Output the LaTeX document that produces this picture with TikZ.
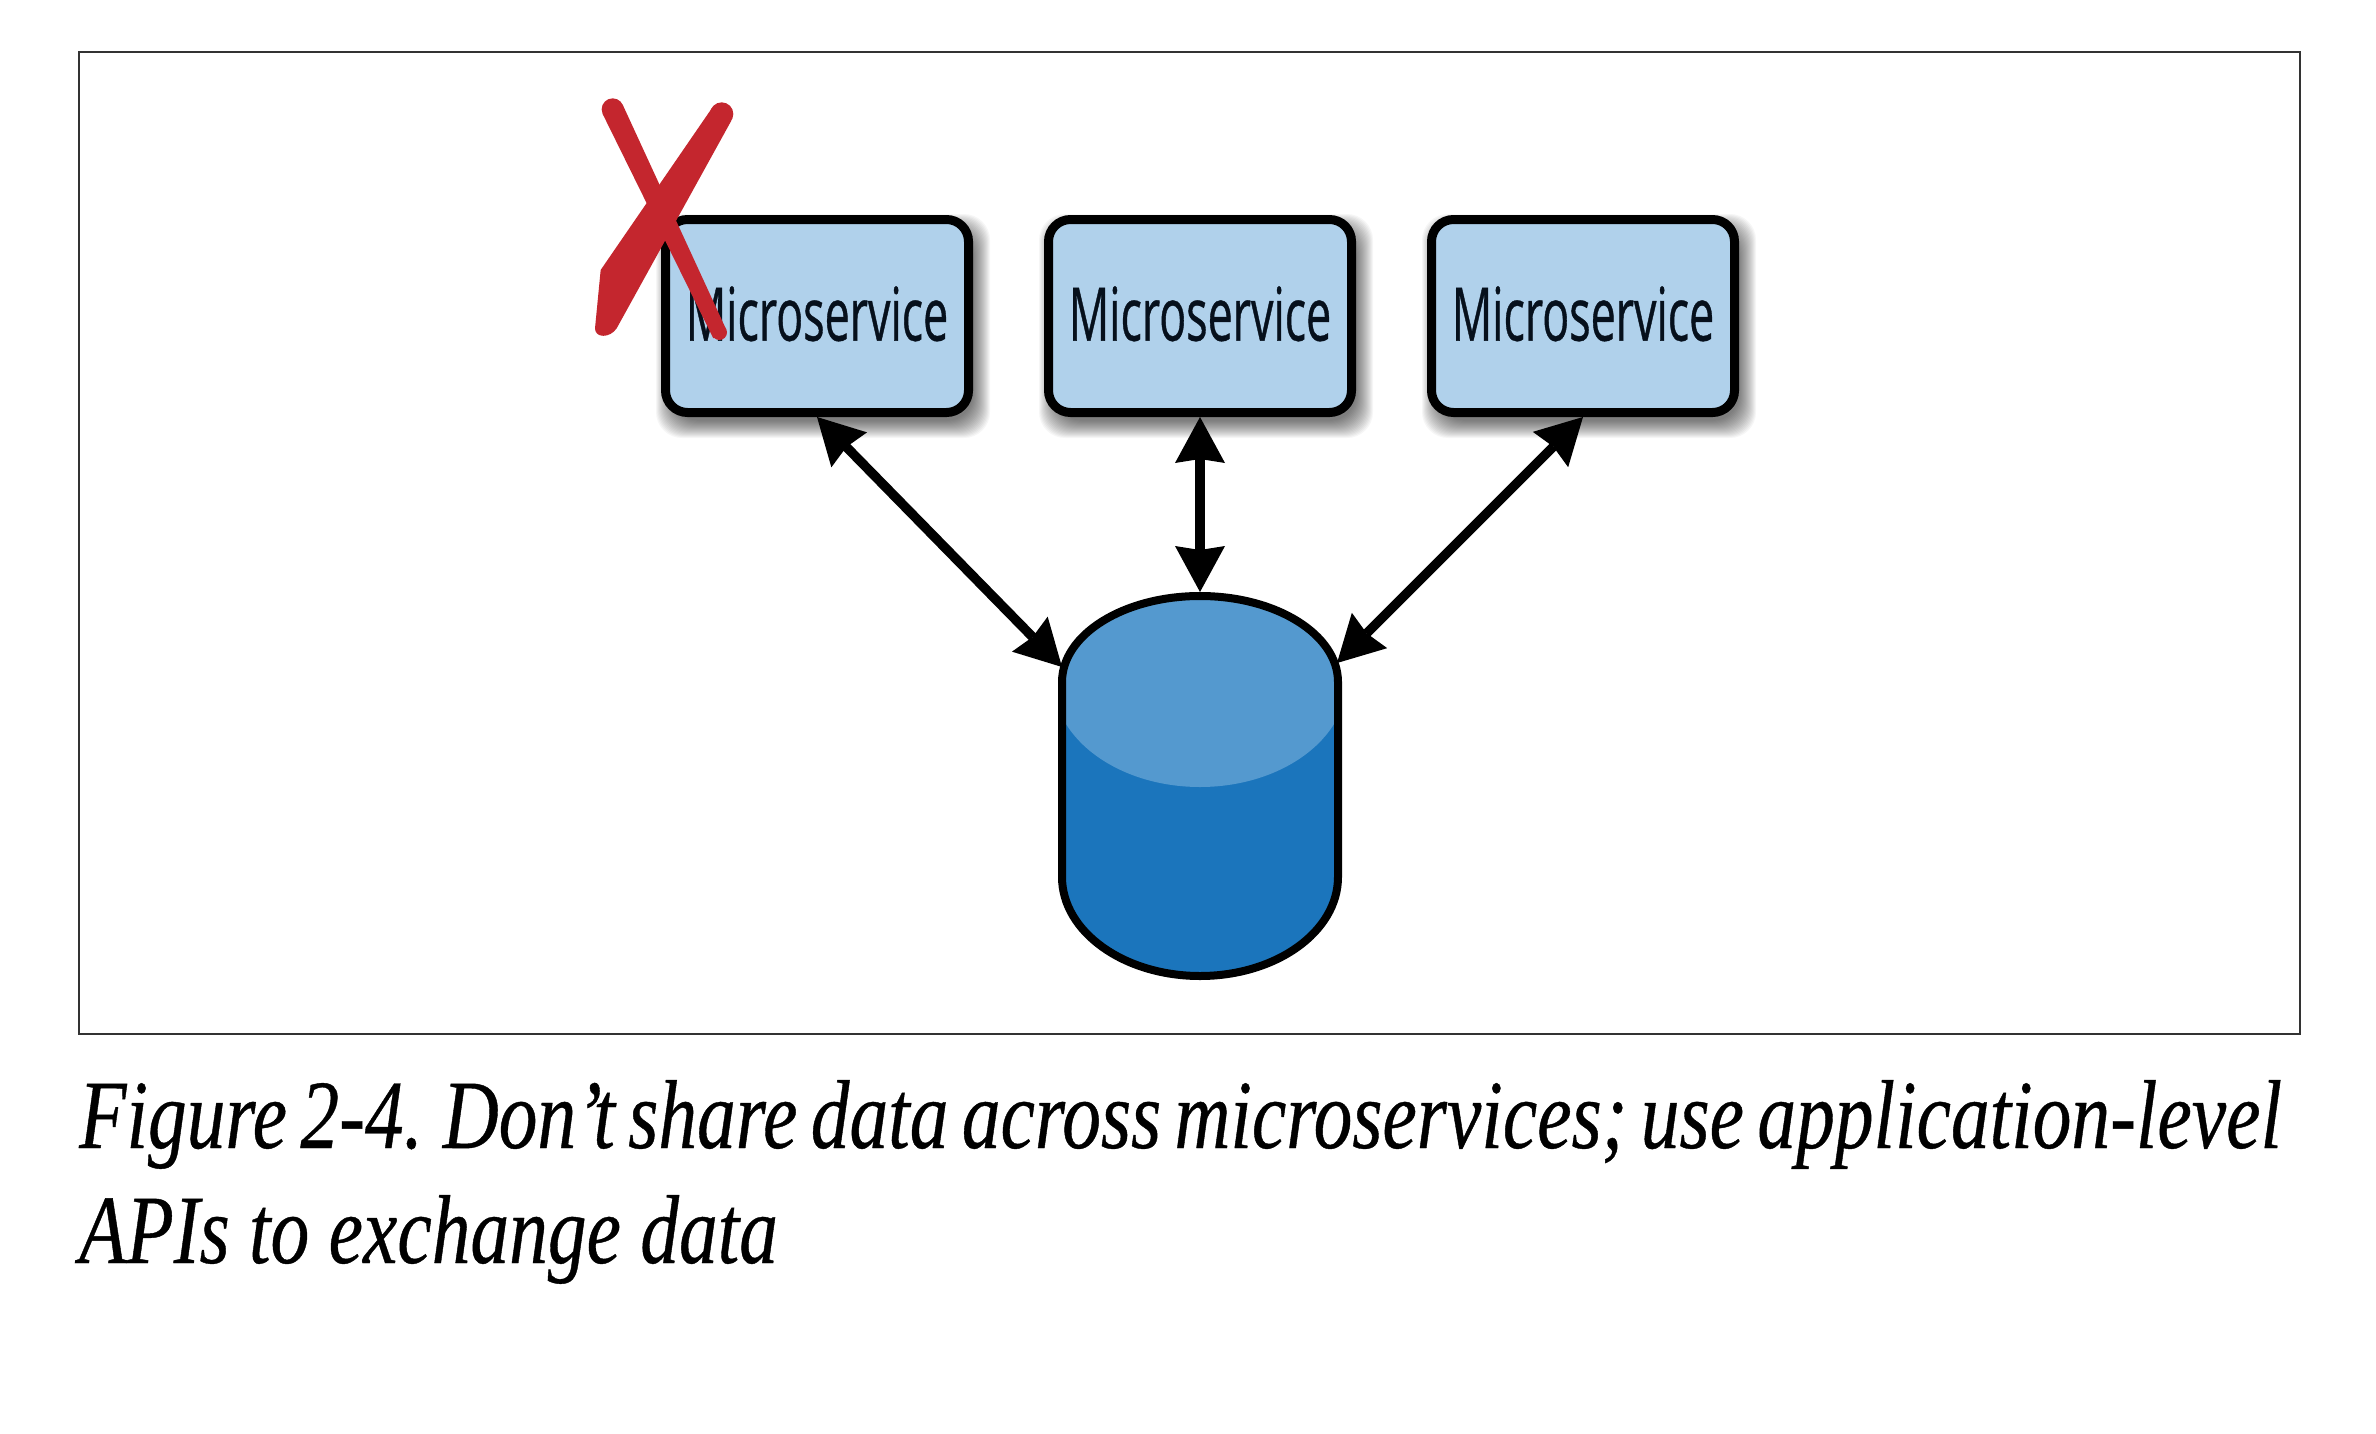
\documentclass[tikz,border=0pt]{standalone}
\usepackage{fontspec}
\usepackage{graphicx}
\usetikzlibrary{arrows.meta}
\setmainfont{Liberation Serif}
\newfontfamily\boxfont[FakeStretch=0.605,FakeBold=0.5]{Open Sans}
\newfontfamily\capfont[FakeStretch=0.79,FakeBold=0.4]{Liberation Serif Italic}
\definecolor{boxblue}{HTML}{B0D1EB}
\definecolor{dbdark}{HTML}{1B75BC}
\definecolor{dblight}{HTML}{5499CF}
\definecolor{xred}{HTML}{C4262E}
\definecolor{boxtext}{HTML}{06101C}
\tikzset{
  svcbox/.style={draw=black,fill=boxblue,line width=9pt,rounded corners=22pt,
    minimum width=303pt,minimum height=193pt,inner sep=0pt,text=boxtext,
    font=\boxfont\fontsize{74}{80}\selectfont},
  dbbox/.style={minimum width=284pt,minimum height=388pt,inner sep=0pt,outer sep=0pt},
  link/.style={line width=9.5pt,
    {Stealth[length=46pt,width=50pt,inset=4pt,line width=0pt]}-{Stealth[length=46pt,width=50pt,inset=4pt,line width=0pt]}},
  captext/.style={anchor=base west,inner sep=0pt,font=\capfont\fontsize{98}{115}\selectfont},
  xmark/.style={fill=xred}
}
\newcommand{\softshadow}[2]{%
  \foreach \g in {-2,...,15}{%
    \fill[black,opacity=0.035,rounded corners=26pt]
      ({#1-152-\g+6},{#2-97-\g+10}) rectangle ({#1+152+\g+6},{#2+97+\g+10});
  }}
\newcommand{\dbpath}{(1062,682) arc[start angle=180,end angle=360,x radius=138,y radius=86]
  -- (1338,877) arc[start angle=0,end angle=180,x radius=138,y radius=99] -- cycle}
\begin{document}
\begin{tikzpicture}[x=1pt,y=-1pt]
\useasboundingbox (0,0) rectangle (2376,1434);
\fill[white] (0,0) rectangle (2376,1434);
\draw[line width=2pt,draw=black!80] (79,52) rectangle (2300,1034);
\softshadow{817}{316}
\softshadow{1200}{316}
\softshadow{1583}{316}
\node[svcbox] (m1) at (817,316) {\raisebox{5pt}{Microservice}};
\node[svcbox] (m2) at (1200,316) {\raisebox{5pt}{Microservice}};
\node[svcbox] (m3) at (1583,316) {\raisebox{5pt}{Microservice}};
\node[dbbox] (db) at (1200,786) {};
\coordinate (dbL) at (1062,667);
\coordinate (dbR) at (1337,663);
\fill[dbdark] \dbpath;
\begin{scope}
\clip \dbpath;
\fill[dblight] (1200,680) ellipse[x radius=147,y radius=107];
\end{scope}
\draw[line width=8pt] \dbpath;
\draw[link] (m1.south) -- (dbL);
\draw[link] (m2.south) -- (db.north);
\draw[link] (m3.south) -- (dbR);
\begin{scope}[shift={(560,80)},scale=0.33333]
\fill[xmark] (128,102) -- (188,74) -- (497,745) -- (460,775) -- cycle;
\fill[xmark] (158,88) circle[radius=33pt];
\fill[xmark] (478,757) circle[radius=23pt];
\fill[xmark] (456,84) -- (514,122) -- (170,745) .. controls (150,775) and (105,775) .. (105,745) -- (122,570) -- cycle;
\fill[xmark] (485,102) circle[radius=35pt];
\end{scope}
\node[captext] (cap1) at (79,1148) {\spaceskip=13.4pt Figure 2-4. Don’t share data across microservices; use application-level};
\node[captext] (cap2) at (79,1263) {APIs to exchange data};
\end{tikzpicture}
\end{document}
